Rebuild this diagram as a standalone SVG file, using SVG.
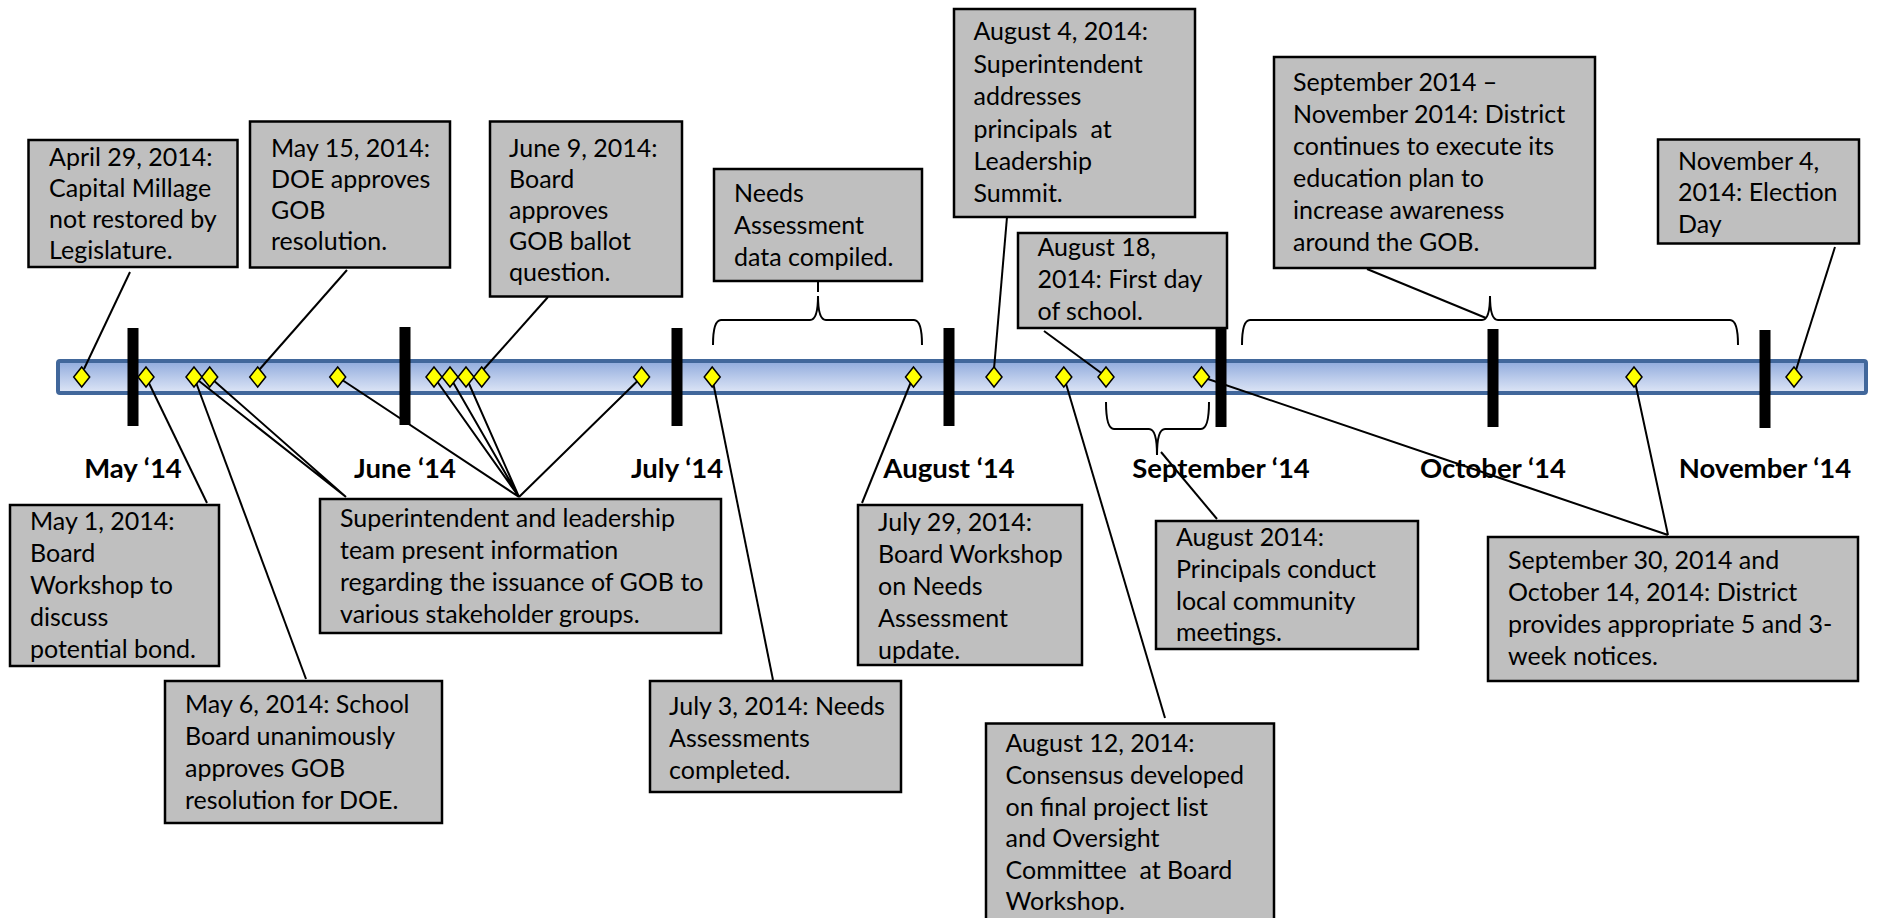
<svg xmlns="http://www.w3.org/2000/svg" xmlns:xlink="http://www.w3.org/1999/xlink" width="1877" height="918" viewBox="0 0 1877 918">
<defs>
<linearGradient id="barg" x1="0" y1="0" x2="0" y2="1">
<stop offset="0" stop-color="#8FAADC"/>
<stop offset="0.5" stop-color="#B8C9EA"/>
<stop offset="1" stop-color="#DEE6F6"/>
</linearGradient>
<polygon id="dm" points="0,-10 8,0 0,10 -8,0" fill="#FFFF00" stroke="#000" stroke-width="1.5"/>
</defs>
<style>
.box{fill:#BFBFBF;stroke:#000;stroke-width:2.5}
.t{font-family:Lato,"Liberation Sans",sans-serif;font-size:25px;fill:#000}
.lbl{font-family:Lato,"Liberation Sans",sans-serif;font-size:27.5px;font-weight:bold;fill:#000;text-anchor:middle}
.c{fill:none;stroke:#000;stroke-width:2}
.tick{fill:#000}
</style>
<rect width="1877" height="918" fill="#fff"/>
<g id="timeline">
<rect x="58" y="361" width="1808" height="32" rx="2" fill="url(#barg)" stroke="#41679B" stroke-width="4"/>
</g>
<g id="month-labels">
<text class="lbl" x="133" y="478">May ‘14</text>
<text class="lbl" x="405" y="478">June ‘14</text>
<text class="lbl" x="677" y="478">July ‘14</text>
<text class="lbl" x="949" y="478">August ‘14</text>
<text class="lbl" x="1221" y="478">September ‘14</text>
<text class="lbl" x="1493" y="478">October ‘14</text>
<text class="lbl" x="1765" y="478">November ‘14</text>
</g>
<g id="connectors">
<path class="c" d="M130,272 L84,369"/>
<path class="c" d="M347,270 L259,370"/>
<path class="c" d="M548,297 L483,370"/>
<path class="c" d="M713,345 Q713,320 721,320 L810,320 Q818,320 818,296 Q818,320 826,320 L914,320 Q922,320 922,345"/>
<path class="c" d="M818,282 L818,292"/>
<path class="c" d="M1007,217 L994,369"/>
<path class="c" d="M1044,331 L1104,375"/>
<path class="c" d="M1242,345 Q1242,320 1250,320 L1482,320 Q1490,320 1490,296 Q1490,320 1498,320 L1730,320 Q1738,320 1738,345"/>
<path class="c" d="M1367,269 L1486,318"/>
<path class="c" d="M1835,247 L1796,370"/>
<path class="c" d="M146,377 L207,503"/>
<path class="c" d="M194,377 L306,679"/>
<path class="c" d="M194,377 L346,497 M209.7,377 L346,497"/>
<path class="c" d="M337.7,377 L519,497 M434,377 L519,497 M450,377 L519,497 M466,377 L519,497 M641.6,377 L519,497"/>
<path class="c" d="M712,377 L773,680"/>
<path class="c" d="M913,377 L862,503"/>
<path class="c" d="M1064,377 L1165,718"/>
<path class="c" d="M1106,402 Q1106,429 1114,429 L1149,429 Q1157,429 1157,455 Q1157,429 1165,429 L1201,429 Q1209,429 1209,402"/>
<path class="c" d="M1161,452 L1217,519"/>
<path class="c" d="M1202,377 L1668,535 M1634,377 L1668,535"/>
</g>
<g id="ticks">
<rect class="tick" x="127.5" y="328" width="11" height="98"/>
<rect class="tick" x="399.5" y="327" width="11" height="98"/>
<rect class="tick" x="671.5" y="328" width="11" height="98"/>
<rect class="tick" x="943.5" y="328" width="11" height="98"/>
<rect class="tick" x="1215.5" y="329" width="11" height="98"/>
<rect class="tick" x="1487.5" y="329" width="11" height="98"/>
<rect class="tick" x="1759.5" y="330" width="11" height="98"/>
</g>
<g id="markers">
<use xlink:href="#dm" x="81.7" y="377"/>
<use xlink:href="#dm" x="146" y="377"/>
<use xlink:href="#dm" x="194" y="377"/>
<use xlink:href="#dm" x="209.7" y="377"/>
<use xlink:href="#dm" x="257.7" y="377"/>
<use xlink:href="#dm" x="337.7" y="377"/>
<use xlink:href="#dm" x="434" y="377"/>
<use xlink:href="#dm" x="450" y="377"/>
<use xlink:href="#dm" x="466" y="377"/>
<use xlink:href="#dm" x="481.7" y="377"/>
<use xlink:href="#dm" x="641.6" y="377"/>
<use xlink:href="#dm" x="712.2" y="377"/>
<use xlink:href="#dm" x="913.5" y="377"/>
<use xlink:href="#dm" x="994" y="377"/>
<use xlink:href="#dm" x="1063.8" y="377"/>
<use xlink:href="#dm" x="1106" y="377"/>
<use xlink:href="#dm" x="1201.5" y="377"/>
<use xlink:href="#dm" x="1634" y="377"/>
<use xlink:href="#dm" x="1794" y="377"/>
</g>
<g id="n-apr29">
<rect class="box" x="28.5" y="140" width="209" height="127"/>
<text class="t"><tspan x="49" y="166">April 29, 2014:</tspan><tspan x="49" y="197">Capital Millage</tspan><tspan x="49" y="228">not restored by</tspan><tspan x="49" y="259">Legislature.</tspan></text>
</g>
<g id="n-may15">
<rect class="box" x="250" y="121.5" width="200" height="146"/>
<text class="t"><tspan x="271" y="157">May 15, 2014:</tspan><tspan x="271" y="188">DOE approves</tspan><tspan x="271" y="219">GOB</tspan><tspan x="271" y="250">resolution.</tspan></text>
</g>
<g id="n-jun9">
<rect class="box" x="490" y="121.5" width="192" height="175"/>
<text class="t"><tspan x="509" y="157">June 9, 2014:</tspan><tspan x="509" y="188">Board</tspan><tspan x="509" y="219">approves</tspan><tspan x="509" y="250">GOB ballot</tspan><tspan x="509" y="281">question.</tspan></text>
</g>
<g id="n-needs">
<rect class="box" x="714" y="169" width="208" height="112"/>
<text class="t"><tspan x="734" y="202">Needs</tspan><tspan x="734" y="234">Assessment</tspan><tspan x="734" y="266">data compiled.</tspan></text>
</g>
<g id="n-aug4">
<rect class="box" x="954" y="9" width="241" height="208"/>
<text class="t"><tspan x="973.5" y="40">August 4, 2014:</tspan><tspan x="973.5" y="72.5">Superintendent</tspan><tspan x="973.5" y="105">addresses</tspan><tspan x="973.5" y="137.5">principals&#160; at</tspan><tspan x="973.5" y="170">Leadership</tspan><tspan x="973.5" y="202">Summit.</tspan></text>
</g>
<g id="n-aug18">
<rect class="box" x="1018" y="233" width="209" height="95"/>
<text class="t"><tspan x="1037.5" y="256">August 18,</tspan><tspan x="1037.5" y="288">2014: First day</tspan><tspan x="1037.5" y="320">of school.</tspan></text>
</g>
<g id="n-sepnov">
<rect class="box" x="1274" y="57" width="321" height="211"/>
<text class="t"><tspan x="1293" y="91">September 2014 –</tspan><tspan x="1293" y="123">November 2014: District</tspan><tspan x="1293" y="155">continues to execute its</tspan><tspan x="1293" y="187">education plan to</tspan><tspan x="1293" y="219">increase awareness</tspan><tspan x="1293" y="251">around the GOB.</tspan></text>
</g>
<g id="n-nov4">
<rect class="box" x="1658" y="139.5" width="201" height="104"/>
<text class="t"><tspan x="1678" y="169.5">November 4,</tspan><tspan x="1678" y="201">2014: Election</tspan><tspan x="1678" y="233">Day</tspan></text>
</g>
<g id="n-may1">
<rect class="box" x="10" y="505" width="209" height="161"/>
<text class="t"><tspan x="30" y="530">May 1, 2014:</tspan><tspan x="30" y="562">Board</tspan><tspan x="30" y="594">Workshop to</tspan><tspan x="30" y="626">discuss</tspan><tspan x="30" y="658">potential bond.</tspan></text>
</g>
<g id="n-supt">
<rect class="box" x="320" y="499" width="401" height="134"/>
<text class="t"><tspan x="340" y="527">Superintendent and leadership</tspan><tspan x="340" y="559">team present information</tspan><tspan x="340" y="591">regarding the issuance of GOB to</tspan><tspan x="340" y="623">various stakeholder groups.</tspan></text>
</g>
<g id="n-may6">
<rect class="box" x="165" y="681" width="277" height="142"/>
<text class="t"><tspan x="185" y="713">May 6, 2014: School</tspan><tspan x="185" y="745">Board unanimously</tspan><tspan x="185" y="777">approves GOB</tspan><tspan x="185" y="809">resolution for DOE.</tspan></text>
</g>
<g id="n-jul3">
<rect class="box" x="650" y="681" width="251" height="111"/>
<text class="t"><tspan x="669" y="715">July 3, 2014: Needs</tspan><tspan x="669" y="747">Assessments</tspan><tspan x="669" y="779">completed.</tspan></text>
</g>
<g id="n-jul29">
<rect class="box" x="858" y="505" width="224" height="160"/>
<text class="t"><tspan x="878" y="531">July 29, 2014:</tspan><tspan x="878" y="563">Board Workshop</tspan><tspan x="878" y="595">on Needs</tspan><tspan x="878" y="627">Assessment</tspan><tspan x="878" y="659">update.</tspan></text>
</g>
<g id="n-aug12">
<rect class="box" x="986" y="723.5" width="288" height="210"/>
<text class="t"><tspan x="1005.5" y="752">August 12, 2014:</tspan><tspan x="1005.5" y="784">Consensus developed</tspan><tspan x="1005.5" y="816">on final project list</tspan><tspan x="1005.5" y="847">and Oversight</tspan><tspan x="1005.5" y="879">Committee&#160; at Board</tspan><tspan x="1005.5" y="910">Workshop.</tspan></text>
</g>
<g id="n-aug2014">
<rect class="box" x="1156" y="521" width="262" height="128"/>
<text class="t"><tspan x="1176" y="546">August 2014:</tspan><tspan x="1176" y="578">Principals conduct</tspan><tspan x="1176" y="610">local community</tspan><tspan x="1176" y="641">meetings.</tspan></text>
</g>
<g id="n-sep30">
<rect class="box" x="1488" y="537" width="370" height="144"/>
<text class="t"><tspan x="1508" y="569">September 30, 2014 and</tspan><tspan x="1508" y="601">October 14, 2014: District</tspan><tspan x="1508" y="633">provides appropriate 5 and 3-</tspan><tspan x="1508" y="665">week notices.</tspan></text>
</g>
</svg>
